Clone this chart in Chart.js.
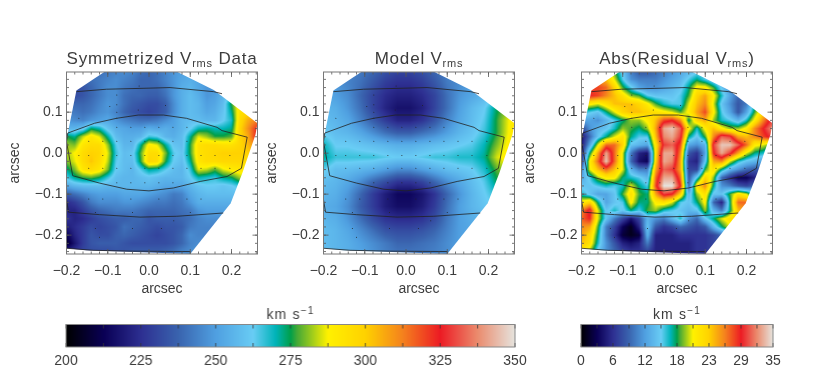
<!DOCTYPE html>
<html><head><meta charset="utf-8">
<style>
html,body{margin:0;padding:0;background:#fff;width:830px;height:369px;overflow:hidden}
canvas{position:absolute;display:block}
</style>
<script src="https://cdn.jsdelivr.net/npm/chart.js@4"></script>
</head><body>
<script>
const gridX=[-0.20,-0.17,-0.14,-0.11,-0.08,-0.05,-0.02,0.01,0.04,0.07,0.10,0.13,0.16,0.19,0.22,0.27];
const gridY=[0.20,0.17,0.14,0.11,0.08,0.05,0.02,-0.01,-0.04,-0.07,-0.10,-0.13,-0.16,-0.19,-0.22,-0.25];
const fineX=[-0.20,-0.18,-0.16,-0.14,-0.12,-0.10,-0.08,-0.06,-0.04,-0.02,0,0.02,0.04,0.06,0.08,0.10,0.12,0.14,0.16,0.18,0.20,0.22,0.24,0.26];
const fineY=[0.20,0.18,0.16,0.14,0.12,0.10,0.08,0.06,0.04,0.02,0,-0.02,-0.04,-0.06,-0.08,-0.10,-0.12,-0.14,-0.16,-0.18,-0.20,-0.22,-0.24];
const dataVrms=[
[240,240,240,240,240,242,244,246,244,240,238,240,244,248,250,250,250,250,250,250,250,250,250,250],
[236,236,238,240,242,244,246,244,242,238,238,240,244,248,252,254,252,250,250,250,250,250,250,250],
[232,232,234,238,242,246,246,242,240,238,238,238,242,248,254,256,252,248,248,252,258,258,258,258],
[232,232,234,238,242,246,246,240,238,238,236,236,240,248,254,258,254,248,250,256,264,268,268,268],
[238,238,238,240,244,248,246,240,236,234,232,232,236,246,254,258,256,250,252,258,276,292,292,292],
[244,242,240,242,246,248,244,238,234,232,230,232,236,246,254,258,256,252,254,260,272,294,298,298],
[248,246,244,248,250,252,248,244,242,240,240,242,246,250,256,258,258,256,256,262,268,296,306,312],
[256,256,260,274,270,260,254,252,250,250,254,252,254,252,256,262,270,272,270,270,272,298,310,322],
[276,272,284,292,286,272,258,254,254,256,266,264,256,254,258,272,286,282,276,276,278,298,306,324],
[282,280,292,296,296,282,264,256,256,272,290,286,272,260,258,276,294,296,296,294,294,298,304,312],
[282,288,296,300,298,286,266,258,260,278,296,296,280,264,260,276,294,296,298,300,300,300,300,302],
[280,286,296,302,296,284,264,258,258,276,298,296,276,262,258,272,292,296,296,298,298,298,296,296],
[272,280,292,296,292,280,262,258,256,264,272,270,264,258,256,266,286,284,278,286,290,292,292,292],
[264,272,276,278,274,266,258,256,256,258,260,258,256,256,256,262,270,268,266,272,274,282,282,282],
[252,256,258,258,258,256,256,256,256,256,256,254,252,252,252,256,260,262,262,260,262,266,266,266],
[236,240,244,248,250,250,250,252,252,252,250,248,246,242,244,252,256,258,258,258,258,258,258,258],
[224,228,234,242,246,246,246,248,248,246,244,242,242,240,242,248,254,254,254,254,254,254,254,254],
[222,222,228,234,238,240,242,242,242,240,238,238,238,238,240,242,248,250,250,250,250,250,250,250],
[226,222,224,228,232,234,236,236,238,238,234,236,236,236,238,240,244,246,246,246,246,246,246,246],
[220,224,228,232,230,232,234,240,238,236,234,232,234,234,236,242,244,244,244,244,244,244,244,244],
[212,222,228,234,232,232,236,238,236,234,232,230,232,234,238,246,244,244,244,244,244,244,244,244],
[206,218,228,234,236,236,236,234,232,232,232,232,232,234,238,244,246,246,246,246,246,246,246,246],
[222,226,230,232,232,232,234,234,236,236,236,236,238,240,244,246,248,248,248,248,248,248,248,248]];
const modelVrms=[
[246,244,244,242,238,233,230,230,233,238,244,248,250,252,254,256],
[250,248,244,240,234,228,225,225,228,234,242,246,250,252,256,258],
[254,250,246,238,230,224,221,221,224,230,240,248,252,256,262,268],
[256,254,248,240,230,222,217,217,221,230,240,250,257,262,274,286],
[258,256,252,244,236,228,222,222,226,234,244,252,258,264,276,295],
[262,258,256,252,246,240,236,236,240,244,250,256,260,266,276,296],
[270,262,262,260,258,256,254,254,256,258,260,262,264,270,280,296],
[272,266,266,266,266,264,262,262,264,266,266,268,268,272,285,296],
[264,258,258,256,254,250,246,246,250,254,258,260,262,268,278,288],
[258,256,252,246,238,232,226,226,230,238,246,252,258,264,274,280],
[256,254,248,238,228,220,214,214,218,226,238,248,256,262,268,272],
[254,252,246,236,228,220,216,216,220,228,240,250,256,260,264,264],
[256,254,248,240,232,226,224,224,226,232,242,250,254,256,258,258],
[258,256,252,246,240,234,232,232,234,238,244,250,252,254,254,254],
[258,256,254,250,246,242,238,238,240,242,246,250,252,252,252,252],
[258,256,254,252,248,244,242,242,242,244,246,250,250,250,250,250]];
const residVrms=[
[24,24,24,22,18,14,10,8,8,9,10,11,12,13,14,14,13,12,12,12,12,12,12,12],
[26,26,26,24,20,15,11,10,10,10,11,12,13,15,17,15,13,12,10,11,12,14,14,14],
[28,28,28,27,23,18,15,12,11,11,12,13,14,17,21,21,18,14,11,9,11,14,16,16],
[29,29,28,26,24,22,19,18,15,14,14,14,15,18,23,25,21,16,12,9,10,14,17,18],
[22,21,20,22,24,24,24,23,21,18,16,15,15,20,24,26,20,14,11,8,10,16,20,22],
[16,15,14,17,20,23,24,24,23,22,21,20,18,21,25,28,21,15,12,8,12,18,23,25],
[12,12,11,13,15,17,19,19,21,24,28,29,26,17,23,25,19,16,15,13,16,21,26,30],
[7,11,13,14,16,19,18,17,19,25,33,34,31,21,16,21,24,21,19,19,21,26,29,32],
[4,9,14,17,20,22,17,15,15,24,32,33,30,17,14,18,26,31,30,25,24,26,28,30],
[4,12,20,27,27,23,14,13,12,22,30,31,28,12,11,13,30,34,34,31,27,21,20,18],
[5,17,25,33,27,20,10,5,4,22,33,33,26,8,6,12,29,33,30,25,20,17,16,14],
[6,21,27,34,27,20,9,4,3,23,33,32,25,6,5,14,25,26,20,16,14,13,12,12],
[10,20,24,27,24,20,13,10,10,25,31,30,25,7,7,18,22,17,13,11,9,8,8,8],
[12,15,19,21,21,17,16,15,13,27,33,33,27,8,15,23,19,9,6,3,3,5,7,7],
[14,14,15,16,15,16,20,17,15,28,35,35,29,9,22,26,17,11,10,8,7,9,10,10],
[16,14,12,12,14,18,22,18,17,25,30,29,23,13,19,22,14,14,18,22,20,14,14,14],
[21,23,17,12,14,15,21,17,17,21,22,20,15,14,17,21,9,5,17,27,27,18,16,16],
[26,30,20,14,16,14,17,15,18,19,16,15,14,13,14,19,13,10,17,24,26,20,18,18],
[27,29,20,14,10,7,4,7,13,11,10,13,16,11,9,14,17,20,22,22,22,22,22,22],
[26,25,18,10,7,3,1,5,14,8,6,7,9,8,7,8,13,17,20,20,20,20,20,20],
[25,23,17,10,6,2,1,2,13,5,5,5,6,6,6,6,7,9,12,14,14,14,14,14],
[24,22,16,11,8,5,4,5,10,5,5,5,5,5,6,6,7,8,10,12,12,12,12,12],
[21,19,14,11,9,7,6,6,7,5,5,5,5,5,6,6,7,8,10,10,10,10,10,10]];
// footprint of the data
const maskX=[-0.176,-0.107,0.067,0.157,0.263,0.258,0.226,0.198,0.100,-0.152,-0.200,-0.200];
const maskY=[0.153,0.199,0.199,0.154,0.073,0.045,-0.049,-0.122,-0.246,-0.237,-0.232,0.033];
// isophotes
const innerX=[-0.197,-0.132,-0.079,-0.026,0.035,0.091,0.165,0.177,0.238,0.224,0.189,0.124,0.059,0,-0.054,-0.120,-0.185,-0.200,-0.197];
const innerY=[0.049,0.073,0.085,0.093,0.093,0.085,0.063,0.055,0.039,-0.037,-0.057,-0.069,-0.085,-0.092,-0.088,-0.073,-0.055,0.028,0.049];
const upperX=[-0.176,-0.103,-0.022,0.051,0.157,0.177];
const upperY=[0.150,0.156,0.158,0.160,0.150,0.145];
const lowerX=[-0.200,-0.195,-0.120,-0.022,0.067,0.180];
const lowerY=[-0.114,-0.144,-0.150,-0.156,-0.154,-0.146];
const bottomX=[-0.200,-0.136,-0.040,0.100];
const bottomY=[-0.232,-0.237,-0.239,-0.240];
const dotX=[-0.024,-0.095,-0.026,0.040,-0.170,-0.078,-0.078,-0.078,-0.078,
-0.078,-0.044,-0.010,0.024,0.058,0.092,-0.146,-0.112,-0.078,-0.044,-0.010,0.024,0.058,0.092,0.126,0.160,0.196,
-0.170,-0.146,-0.112,-0.078,-0.044,-0.010,0.024,0.058,0.092,0.126,0.160,0.196,
-0.146,-0.112,-0.078,-0.044,-0.010,0.024,0.058,0.092,0.126,0.160,0.196,
-0.078,-0.044,-0.010,0.024,0.058,-0.146,-0.112,-0.044,0.024,0.092,0.126,-0.130,-0.040,0.100,-0.130,-0.040,0.030,0.060,-0.120];
const dotY=[0.164,0.114,0.105,0.116,0.085,0.142,0.118,0.100,0.085,
0.063,0.063,0.063,0.063,0.063,0.063,0.029,0.029,0.029,0.029,0.029,0.029,0.029,0.029,0.029,0.029,0.029,
-0.006,-0.006,-0.006,-0.006,-0.006,-0.006,-0.006,-0.006,-0.006,-0.006,-0.006,-0.006,
-0.037,-0.037,-0.037,-0.037,-0.037,-0.037,-0.037,-0.037,-0.037,-0.037,-0.037,
-0.072,-0.072,-0.072,-0.072,-0.072,-0.112,-0.112,-0.112,-0.112,-0.112,-0.112,-0.145,-0.145,-0.145,-0.184,-0.184,-0.184,-0.165,-0.205];
// colour table
const stopT=[0,0.083,0.167,0.25,0.333,0.417,0.467,0.50,0.515,0.583,0.667,0.75,0.833,0.917,1];
const stopC=[[0,0,0],[10,0,85],[46,48,146],[58,100,175],[80,160,225],[105,205,245],[0,180,185],[0,160,75],[70,170,55],[255,242,0],[255,210,0],[245,130,30],[237,28,36],[235,140,110],[230,228,222]];
const titles=[["Symmetrized V","rms"," Data"],["Model V","rms",""],["Abs(Residual V","rms",")"]];
const barTicksA=[200,225,250,275,300,325,350];
const barMinorA=[212.5,237.5,262.5,287.5,312.5,337.5];
const barTicksB=[0,5.83,11.67,17.5,23.33,29.17,35];
const barMinorB=[2.92,8.75,14.58,20.42,26.25,32.08];
const barUnit=["km s","\u22121"];

const TXT='#3c3c3c';
const FONT='"Liberation Sans"';
function col(t){
  t=Math.max(0,Math.min(1,t));
  let i=0; while(i<stopT.length-2&&t>stopT[i+1])i++;
  const f=(t-stopT[i])/(stopT[i+1]-stopT[i]),a=stopC[i],b=stopC[i+1];
  return [a[0]+(b[0]-a[0])*f,a[1]+(b[1]-a[1])*f,a[2]+(b[2]-a[2])*f];
}
function idx(arr,v){
  const asc=arr[1]>arr[0];
  for(let i=0;i<arr.length-1;i++){
    const a=arr[i],b=arr[i+1];
    if(asc?v<=b:v>=b){return [i,Math.max(0,Math.min(1,(v-a)/(b-a)))];}
  }
  return [arr.length-2,1];
}
const fieldPlugin={id:'field',beforeDatasetsDraw(c,_,o){
  const {ctx,chartArea:A,scales:{x,y}}=c;
  const w=Math.ceil(A.right-A.left),h=Math.ceil(A.bottom-A.top);
  const off=document.createElement('canvas');off.width=w;off.height=h;
  const oc=off.getContext('2d'),im=oc.createImageData(w,h);
  for(let j=0;j<h;j++){
    const vy=y.getValueForPixel(A.top+j+0.5),[r,fr]=idx(o.gy,vy);
    for(let i=0;i<w;i++){
      const vx=x.getValueForPixel(A.left+i+0.5),[q,fq]=idx(o.gx,vx);
      const g=o.values;
      const v=(g[r][q]*(1-fq)+g[r][q+1]*fq)*(1-fr)+(g[r+1][q]*(1-fq)+g[r+1][q+1]*fq)*fr;
      const p=col((v-o.min)/(o.max-o.min)),k=(j*w+i)*4;
      im.data[k]=p[0];im.data[k+1]=p[1];im.data[k+2]=p[2];im.data[k+3]=255;
    }
  }
  oc.putImageData(im,0,0);
  ctx.save();ctx.beginPath();ctx.rect(A.left,A.top,A.right-A.left,A.bottom-A.top);ctx.clip();
  ctx.beginPath();
  maskX.forEach((mx,i)=>{const px=x.getPixelForValue(mx),py=y.getPixelForValue(maskY[i]);i?ctx.lineTo(px,py):ctx.moveTo(px,py);});
  ctx.closePath();ctx.clip();
  ctx.drawImage(off,A.left,A.top);
  ctx.restore();
}};
function minorTicks(min,max,step){const out=[];for(let n=Math.ceil(min/step-1e-6);n*step<=max+1e-9;n++)out.push(n*step);return out;}
const framePlugin={id:'frame',afterDatasetsDraw(c){
  const {ctx,chartArea:A,scales:{x,y}}=c;
  ctx.save();ctx.strokeStyle='#555';ctx.lineWidth=0.8;
  ctx.beginPath();
  const draw=(s,vals,len)=>{
    vals.forEach(v=>{
      const p=s.getPixelForValue(v);
      if(s.axis==='x'){ctx.moveTo(p,A.top);ctx.lineTo(p,A.top+len);ctx.moveTo(p,A.bottom);ctx.lineTo(p,A.bottom-len);}
      else{ctx.moveTo(A.left,p);ctx.lineTo(A.left+len,p);ctx.moveTo(A.right,p);ctx.lineTo(A.right-len,p);}
    });
  };
  draw(x,minorTicks(x.min,x.max,0.02),2.5);draw(y,minorTicks(y.min,y.max,0.02),2.5);
  draw(x,minorTicks(x.min,x.max,0.1),5);draw(y,minorTicks(y.min,y.max,0.1),5);
  ctx.stroke();
  ctx.strokeStyle='#777';ctx.lineWidth=1;
  ctx.strokeRect(A.left,A.top,A.right-A.left,A.bottom-A.top);
  ctx.restore();
}};
function drawParts(ctx,cx,cy,parts,size,spacing,raise,subSize){
  ctx.save();ctx.fillStyle=TXT;ctx.textBaseline='alphabetic';ctx.textAlign='left';
  ctx.letterSpacing=spacing+'px';
  const fontOf=i=>(i===1?subSize:size)+'px '+FONT;
  let tot=0;parts.forEach((t,i)=>{ctx.font=fontOf(i);tot+=ctx.measureText(t).width;});
  let px=cx-tot/2;
  parts.forEach((t,i)=>{ctx.font=fontOf(i);ctx.fillText(t,px,cy+(i===1?raise:0));px+=ctx.measureText(t).width;});
  ctx.restore();
}
const titlePlugin={id:'ptitle',afterDraw(c,_,o){
  const A=c.chartArea;
  drawParts(c.ctx,(A.left+A.right)/2,A.top-8,o.parts,17,0.8,3,11);
}};
const fmt=v=>{const r=Math.round(v*10)/10;return (r<0?'\u2212':'')+Math.abs(r).toFixed(1);};
const lineDs=(xs,ys)=>({type:'scatter',showLine:true,data:xs.map((v,i)=>({x:v,y:ys[i]})),borderColor:'#222',borderWidth:0.8,pointRadius:0,tension:0});
function panel(n,left,values,gx,gy,min,max){
  const cv=document.createElement('canvas');cv.width=264;cv.height=300;
  cv.style.cssText=`left:${left}px;top:0;width:264px;height:300px`;
  document.body.appendChild(cv);
  return new Chart(cv,{type:'scatter',
    data:{datasets:[lineDs(innerX,innerY),lineDs(upperX,upperY),lineDs(lowerX,lowerY),lineDs(bottomX,bottomY),
      {data:dotX.map((v,i)=>({x:v,y:dotY[i]})),backgroundColor:'#222',borderWidth:0,pointRadius:0.5}]},
    plugins:[fieldPlugin,framePlugin,titlePlugin],
    options:{responsive:false,animation:false,events:[],
      layout:{padding:{top:72,left:0,right:6.5,bottom:0}},
      plugins:{legend:{display:false},tooltip:{enabled:false},field:{values,gx,gy,min,max},ptitle:{parts:titles[n]}},
      scales:{
        x:{type:'linear',min:-0.2,max:0.263,grid:{display:false,drawTicks:false},border:{display:false},
          afterFit(s){s.height=46;},
          ticks:{stepSize:0.1,includeBounds:false,maxRotation:0,autoSkip:false,padding:9,color:TXT,font:{family:FONT,size:14},callback:fmt},
          title:{display:true,text:'arcsec',color:TXT,font:{family:FONT,size:14},padding:{top:0,bottom:2}}},
        y:{type:'linear',min:-0.246,max:0.198,grid:{display:false,drawTicks:false},border:{display:false},
          afterFit(s){s.width=66.5;},
          ticks:{stepSize:0.1,includeBounds:false,autoSkip:false,padding:4,color:TXT,font:{family:FONT,size:14},callback:fmt},
          title:{display:true,text:'arcsec',color:TXT,font:{family:FONT,size:14},padding:{top:7,bottom:0}}}
      }}});
}
const barPlugin={id:'cbar',beforeDatasetsDraw(c){
  const {ctx,chartArea:A,scales:{x}}=c;
  for(let px=Math.floor(A.left);px<Math.ceil(A.right);px++){
    const p=col((x.getValueForPixel(px+0.5)-x.min)/(x.max-x.min));
    ctx.fillStyle=`rgb(${p[0]|0},${p[1]|0},${p[2]|0})`;
    ctx.fillRect(px,A.top,1,A.bottom-A.top);
  }
},afterDatasetsDraw(c,_,o){
  const {ctx,chartArea:A,scales:{x}}=c;
  ctx.save();ctx.strokeStyle='#333';ctx.lineWidth=0.8;ctx.beginPath();
  o.major.concat(o.minor).forEach(v=>{
    const p=x.getPixelForValue(v);
    ctx.moveTo(p,A.top);ctx.lineTo(p,A.top+4);ctx.moveTo(p,A.bottom);ctx.lineTo(p,A.bottom-4);
  });
  ctx.stroke();
  ctx.strokeStyle='#888';ctx.lineWidth=1;ctx.strokeRect(A.left,A.top,A.right-A.left,A.bottom-A.top);
  ctx.restore();
  drawParts(ctx,(A.left+A.right)/2,A.top-6,[barUnit[0],barUnit[1]],14,1.2,-5,10);
}};
function bar(left,width,min,max,major,minor){
  const cv=document.createElement('canvas');cv.width=width;cv.height=69;
  cv.style.cssText=`left:${left}px;top:300px;width:${width}px;height:69px`;
  document.body.appendChild(cv);
  return new Chart(cv,{type:'scatter',
    data:{datasets:[{data:major.map(v=>({x:v,y:0})),pointRadius:0}]},
    plugins:[barPlugin],
    options:{responsive:false,animation:false,events:[],
      layout:{padding:{top:24.5,left:20,right:20,bottom:0}},
      plugins:{legend:{display:false},tooltip:{enabled:false},cbar:{major,minor}},
      scales:{
        x:{type:'linear',min,max,grid:{display:false,drawTicks:false},border:{display:false},
          afterFit(s){s.height=22;},
          afterBuildTicks(s){s.ticks=major.map(v=>({value:v}));},
          ticks:{autoSkip:false,maxRotation:0,padding:6,color:TXT,font:{family:FONT,size:14},callback:v=>String(Math.round(v))}},
        y:{display:false,min:-1,max:1}
      }}});
}
panel(0,0,dataVrms,fineX,fineY,200,350);
panel(1,256.5,modelVrms,gridX,gridY,200,350);
panel(2,514.5,residVrms,fineX,fineY,0,35);
bar(46,488.5,200,350,barTicksA,barMinorA);
bar(560.5,232,0,35,barTicksB,barMinorB);
</script>
</body></html>
